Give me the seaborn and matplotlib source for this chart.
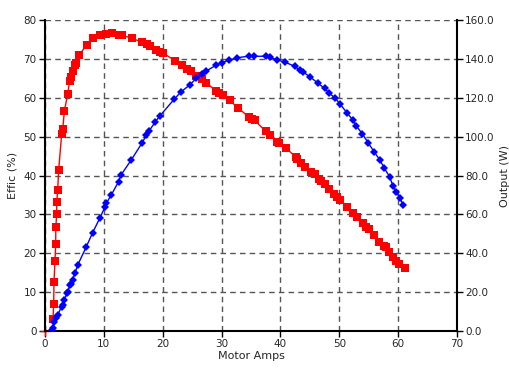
import numpy as np
import pandas as pd
import seaborn as sns
from matplotlib import pyplot as plt

sns.set_style("white")
plt.rcParams['font.family'] = ['DejaVu Sans']

# efficiency curve (left axis)
eff_amps = [1.36, 1.48, 1.53, 1.70, 1.82, 1.84, 1.99, 2.0, 2.16, 2.33, 2.84, 3.01, 3.3, 3.86,
            4.2, 4.43, 4.77, 5.06, 5.2, 5.74, 7.16, 8.24, 9.38, 10.4, 11.36, 12.6, 13.07,
            14.77, 16.5, 17.3, 17.8, 18.9, 19.5, 20.0, 22.1, 23.3, 24.1, 24.8, 25.7, 26.6,
            27.4, 29.1, 29.5, 30.2, 31.4, 32.8, 34.6, 35.2, 35.6, 37.5, 38.2, 39.4, 39.8,
            40.9, 42.6, 42.9,
            43.5, 44.2, 45.2, 45.9, 46.5, 46.9, 47.5, 48.3, 49.1, 49.7, 50.2, 51.4, 52.3,
            53.1, 54.0, 54.6, 55.1, 55.9, 56.8, 57.6, 57.9, 58.5, 59.2, 59.7, 60.1, 61.1]
eff_pct = [3.0, 6.9, 12.7, 17.9, 22.3, 26.7, 30.1, 33.2, 36.3, 41.5, 50.7, 51.9, 56.6, 61.0,
           64.4, 65.3, 66.9, 68.5, 68.9, 70.9, 73.7, 75.3, 76.1, 76.3, 76.6, 76.2, 76.1,
           75.3, 74.3, 73.8, 73.3, 72.4, 71.9, 71.6, 69.5, 68.5, 67.4, 66.9, 65.6, 64.9,
           63.9, 61.7, 61.2, 60.8, 59.3, 57.4, 55.1, 54.6, 54.2, 51.4, 50.5, 48.7, 48.3,
           47.1, 44.8, 44.2,
           43.3, 42.3, 40.9, 40.3, 39.1, 38.5, 37.9, 36.5, 35.3, 34.4, 33.8, 31.8, 30.3,
           29.2, 27.8, 26.8, 26.2, 24.6, 22.9, 21.8, 21.5, 20.2, 19.1, 18.0, 17.3, 16.2]

# output power curve (right axis)
out_amps = [1.14, 1.3, 1.6, 1.82, 2.16, 2.84, 3.0, 3.3, 3.75, 3.9, 4.2, 4.4, 4.7, 5.06, 5.6,
            7.0, 8.1, 9.3, 10.2, 10.4, 11.3, 12.5, 12.9, 14.7, 16.5, 17.2, 17.7, 18.75,
            19.5, 22.0, 23.1, 24.6, 25.7, 26.6, 27.3, 29.1, 30.0, 31.3, 32.7, 34.6, 35.5,
            37.5, 38.2, 39.4, 40.8, 42.5, 43.3, 43.9, 45.0, 46.4, 47.5, 48.3, 49.3, 50.1,
            51.3, 52.3, 52.9, 53.9, 54.9, 55.9, 56.9, 57.6, 58.6, 59.1, 59.7, 60.3, 60.9]
out_watts = [0.5, 1.8, 4.4, 6.8, 8.4, 12.6, 13.4, 16.2, 19.6, 20.0, 23.8, 24.2, 26.4, 29.6,
             34.2, 43.2, 50.6, 58.0, 63.8, 65.6, 70.2, 76.8, 80.2, 88.2, 96.8, 100.6, 103.0,
             107.6, 110.6, 119.4, 123.0, 126.6, 130.0, 132.2, 133.6, 136.8, 138.0, 139.4,
             140.6, 141.4, 141.3, 141.4, 140.9, 139.5, 138.3, 136.1, 134.2, 133.2, 130.8,
             127.5, 124.8, 122.4, 119.8, 116.9, 112.3, 108.6, 105.5, 101.5, 96.9, 92.3,
             88.0, 84.1, 79.1, 74.8, 71.6, 68.2, 64.8]

eff = pd.DataFrame({'amps': eff_amps, 'effic': eff_pct})
out = pd.DataFrame({'amps': out_amps, 'watts': out_watts})

fig = plt.figure(figsize=(5.1, 3.7), dpi=100)
ax = fig.add_axes([0.0882, 0.1054, 0.8078, 0.8405])
ax2 = ax.twinx()

sns.lineplot(data=eff, x='amps', y='effic', ax=ax, color='#ff0000', marker='s',
             markersize=5.5, markeredgewidth=0, linewidth=1)
ax.plot([0], [0], marker='+', color='#ff0000', markersize=7, clip_on=False)
sns.lineplot(data=out, x='amps', y='watts', ax=ax2, color='#0000ff', marker='D',
             markersize=4, markeredgewidth=0, linewidth=1)

ax.set_xlim(0, 70)
ax.set_ylim(0, 80)
ax2.set_ylim(0, 160)
ax.set_xticks(range(0, 71, 10))
ax.set_yticks(range(0, 81, 10))
ax2.set_yticks(range(0, 161, 20))
ax2.set_yticklabels(['%.1f' % v for v in range(0, 161, 20)])

ax.grid(True, color='#555555', linestyle=(0, (4, 3)), linewidth=1)
ax2.grid(False)

for a in (ax, ax2):
    for s in a.spines.values():
        s.set_visible(False)
    a.tick_params(labelsize=7.5, length=4, width=1, color='black', pad=2)
ax.spines['left'].set_visible(True)
ax.spines['bottom'].set_visible(True)
ax2.spines['right'].set_visible(True)
for s in (ax.spines['left'], ax.spines['bottom'], ax2.spines['right']):
    s.set_color('black')
    s.set_linewidth(1.5)
ax.tick_params(axis='x', bottom=True, direction='out')
ax.tick_params(axis='y', left=True, direction='out')
ax2.tick_params(axis='y', right=True, direction='out')

ax.set_xlabel('Motor Amps', fontsize=8, labelpad=1)
ax.set_ylabel('Effic (%)', fontsize=8, labelpad=4)
ax2.set_ylabel('Output (W)', fontsize=8, labelpad=4)

fig.savefig('out.png', dpi=100)
